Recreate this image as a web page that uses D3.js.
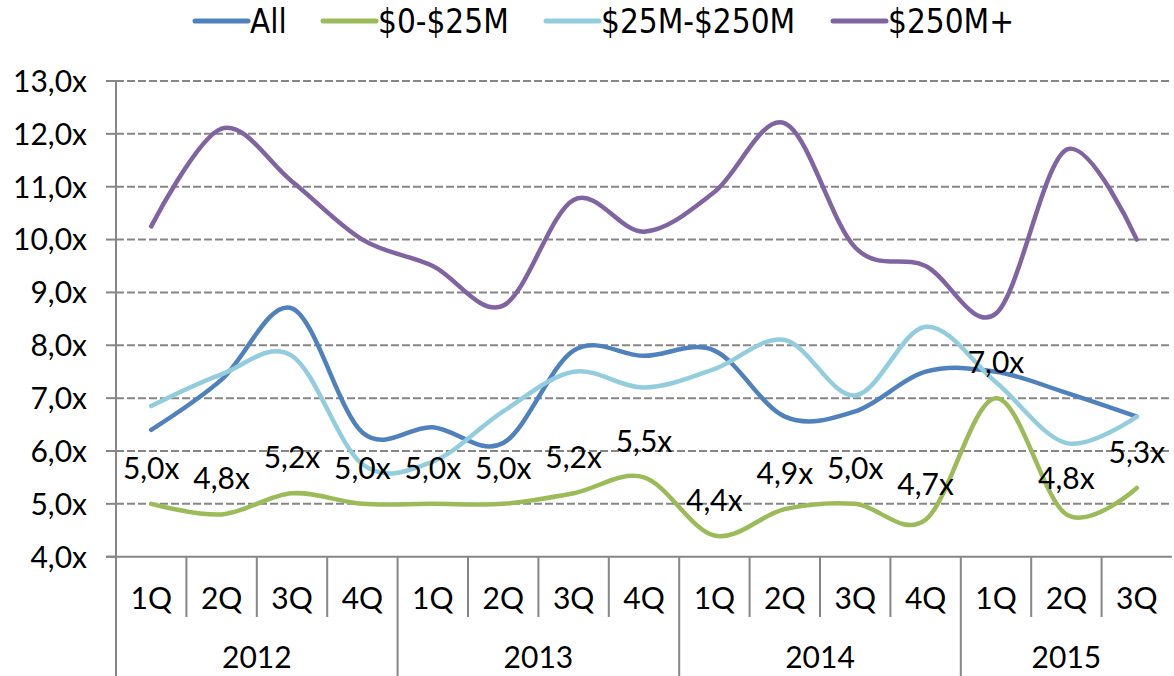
<!DOCTYPE html>
<html>
<head>
<meta charset="utf-8">
<script src="https://cdn.jsdelivr.net/npm/d3@7/dist/d3.min.js"></script>
<style>
  body { margin: 0; background: #fff; }
  text { font-family: Lato, "DejaVu Sans", sans-serif; fill: #000; }
  .legend text { font-family: "Liberation Sans Narrow", "DejaVu Sans Condensed", sans-serif; }
</style>
</head>
<body>
<div id="chart"></div>
<script>
// data
var years = ['2012', '2013', '2014', '2015'];
var quarters = ['1Q', '2Q', '3Q', '4Q', '1Q', '2Q', '3Q', '4Q', '1Q', '2Q', '3Q', '4Q', '1Q', '2Q', '3Q'];
var quarterYear = ['2012', '2012', '2012', '2012', '2013', '2013', '2013', '2013', '2014', '2014', '2014', '2014', '2015', '2015', '2015'];
var seriesNames = ['All', '$0-$25M', '$25M-$250M', '$250M+'];
var allVals   = [6.4, 7.35, 8.7, 6.35, 6.45, 6.15, 7.9, 7.8, 7.9, 6.65, 6.75, 7.5, 7.5, 7.1, 6.65];
var smallVals = [5.0, 4.8, 5.2, 5.0, 5.0, 5.0, 5.2, 5.5, 4.4, 4.9, 5.0, 4.7, 7.0, 4.8, 5.3];
var midVals   = [6.85, 7.45, 7.8, 5.75, 5.8, 6.75, 7.5, 7.2, 7.55, 8.1, 7.05, 8.35, 7.3, 6.15, 6.65];
var largeVals = [10.25, 12.1, 11.1, 10.0, 9.5, 8.75, 10.75, 10.15, 10.9, 12.2, 9.85, 9.5, 8.6, 11.7, 10.0];
var yTicks = [4, 5, 6, 7, 8, 9, 10, 11, 12, 13];

var colors = ['#4f81bd', '#9bbb59', '#93cddd', '#8064a2'];
var seriesVals = [allVals, smallVals, midVals, largeVals];

var width = 1174, height = 676;
var svg = d3.select('#chart').append('svg')
    .attr('width', width)
    .attr('height', height);

var keys = quarters.map(function(q, i) { return quarterYear[i] + q; });

var x = d3.scaleBand()
    .domain(keys)
    .range([116, 1172]);

var y = d3.scaleLinear()
    .domain([4, 13])
    .range([556.7, 81]);

var fmt = function(v) { return d3.format('.1f')(v).replace('.', ',') + 'x'; };

// gridlines
svg.append('g').selectAll('line')
    .data(yTicks.slice(1))
  .enter().append('line')
    .attr('x1', 116).attr('x2', 1172)
    .attr('y1', function(d) { return y(d); })
    .attr('y2', function(d) { return y(d); })
    .attr('stroke', '#868686')
    .attr('stroke-width', 2)
    .attr('stroke-dasharray', '8,3');

// y ticks + labels
svg.append('g').selectAll('line')
    .data(yTicks)
  .enter().append('line')
    .attr('x1', 106).attr('x2', 116)
    .attr('y1', function(d) { return y(d); })
    .attr('y2', function(d) { return y(d); })
    .attr('stroke', '#868686')
    .attr('stroke-width', 2);

svg.append('g').selectAll('text')
    .data(yTicks)
  .enter().append('text')
    .attr('x', 87)
    .attr('y', function(d) { return y(d); })
    .attr('dy', '0.36em')
    .attr('text-anchor', 'end')
    .style('font-size', '30px')
    .text(fmt);

// axis lines
svg.append('line')
    .attr('x1', 116).attr('x2', 116)
    .attr('y1', y(13)).attr('y2', height)
    .attr('stroke', '#868686').attr('stroke-width', 2);
svg.append('line')
    .attr('x1', 106).attr('x2', 1172)
    .attr('y1', y(4)).attr('y2', y(4))
    .attr('stroke', '#868686').attr('stroke-width', 2);

// category separators
var bw = x.bandwidth();
svg.append('g').selectAll('line')
    .data(keys.slice(1))
  .enter().append('line')
    .attr('x1', function(d) { return x(d); })
    .attr('x2', function(d) { return x(d); })
    .attr('y1', y(4))
    .attr('y2', function(d, i) { return (i + 1) % 4 == 0 ? height : 617; })
    .attr('stroke', '#868686').attr('stroke-width', 2);

svg.append('g').selectAll('text')
    .data(keys)
  .enter().append('text')
    .attr('x', function(d) { return x(d) + bw / 2; })
    .attr('y', 609)
    .attr('text-anchor', 'middle')
    .style('font-size', '30px')
    .text(function(d, i) { return quarters[i]; });

svg.append('g').selectAll('text')
    .data(years)
  .enter().append('text')
    .attr('x', function(yr) {
        var ks = keys.filter(function(k, i) { return quarterYear[i] == yr; });
        return (x(ks[0]) + x(ks[ks.length - 1]) + bw) / 2;
    })
    .attr('y', 668)
    .attr('text-anchor', 'middle')
    .style('font-size', '30px')
    .text(function(d) { return d; });

// lines
var line = d3.line()
    .x(function(d, i) { return x(keys[i]) + bw / 2; })
    .y(function(d) { return y(d); })
    .curve(d3.curveCardinal.tension(0));

seriesVals.forEach(function(vals, s) {
    svg.append('path')
        .datum(vals)
        .attr('fill', 'none')
        .attr('stroke', colors[s])
        .attr('stroke-width', 4.5)
        .attr('stroke-linecap', 'round')
        .attr('d', line);
});

// data labels on the $0-$25M series
svg.append('g').selectAll('text')
    .data(smallVals)
  .enter().append('text')
    .attr('x', function(d, i) { return x(keys[i]) + bw / 2; })
    .attr('y', function(d) { return y(d) - 25; })
    .attr('text-anchor', 'middle')
    .style('font-size', '30px')
    .text(fmt);

// legend
var legendX = [195, 323, 546, 833];
var legend = svg.append('g').attr('class', 'legend');
seriesNames.forEach(function(name, s) {
    legend.append('line')
        .attr('x1', legendX[s]).attr('x2', legendX[s] + 53)
        .attr('y1', 21).attr('y2', 21)
        .attr('stroke', colors[s])
        .attr('stroke-width', 5)
        .attr('stroke-linecap', 'round');
    legend.append('text')
        .attr('x', legendX[s] + 55)
        .attr('y', 33)
        .style('font-size', '33px')
        .text(name);
});
</script>
</body>
</html>
